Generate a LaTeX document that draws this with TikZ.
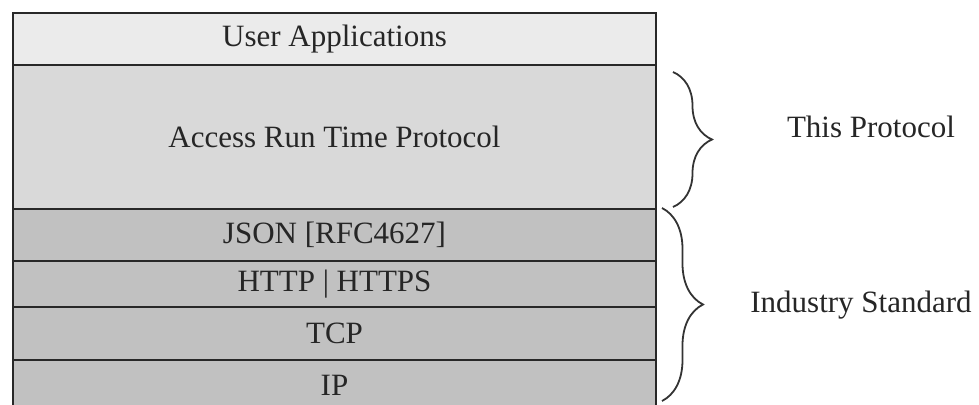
\documentclass[tikz,border=0pt]{standalone}
\usepackage{fontspec}
\setmainfont{Liberation Serif}
\usepackage{tikz}
\usetikzlibrary{decorations.pathreplacing}
\definecolor{layerLight}{RGB}{235,235,235}
\definecolor{layerMid}{RGB}{217,217,217}
\definecolor{layerDark}{RGB}{193,193,193}
\definecolor{edgeGray}{RGB}{40,40,40}

\begin{document}
\begin{tikzpicture}[
  x=1pt,y=-1pt,
  every node/.style={font=\fontsize{31}{36}\selectfont,text=black!85},
  layer/.style={draw=edgeGray,fill=#1,line width=2pt,minimum width=643pt,inner sep=0pt,anchor=north west},
  bracket/.style={decorate,decoration={brace,amplitude=#1},line width=1.8pt,draw=black!80},
  note/.style={anchor=center}
]
  \useasboundingbox (0,0) rectangle (979,404);

  \node[layer=layerLight,minimum height=52pt]  (user) at (12,12)  {User Applications};
  \node[layer=layerMid,minimum height=144pt]   (arp)  at (12,64)  {Access Run Time Protocol};
  \node[layer=layerDark,minimum height=52pt]   (json) at (12,208) {JSON [RFC4627]};
  \node[layer=layerDark,minimum height=46pt]   (http) at (12,260) {HTTP | HTTPS};
  \node[layer=layerDark,minimum height=53pt]   (tcp)  at (12,306) {TCP};
  \node[layer=layerDark,minimum height=50pt]   (ip)   at (12,359) {IP};

  \coordinate (protoTop) at (673,72);
  \coordinate (protoBot) at (673,207);
  \coordinate (stdTop)   at (662,208);
  \coordinate (stdBot)   at (662,401);

  \draw[bracket=39pt] (protoTop) -- (protoBot);
  \draw[bracket=41pt] (stdTop) -- (stdBot);

  \node[note] (protoLabel) at (871,127) {This Protocol};
  \node[note] (stdLabel)   at (861,305) {Industry Standard};
\end{tikzpicture}
\end{document}
